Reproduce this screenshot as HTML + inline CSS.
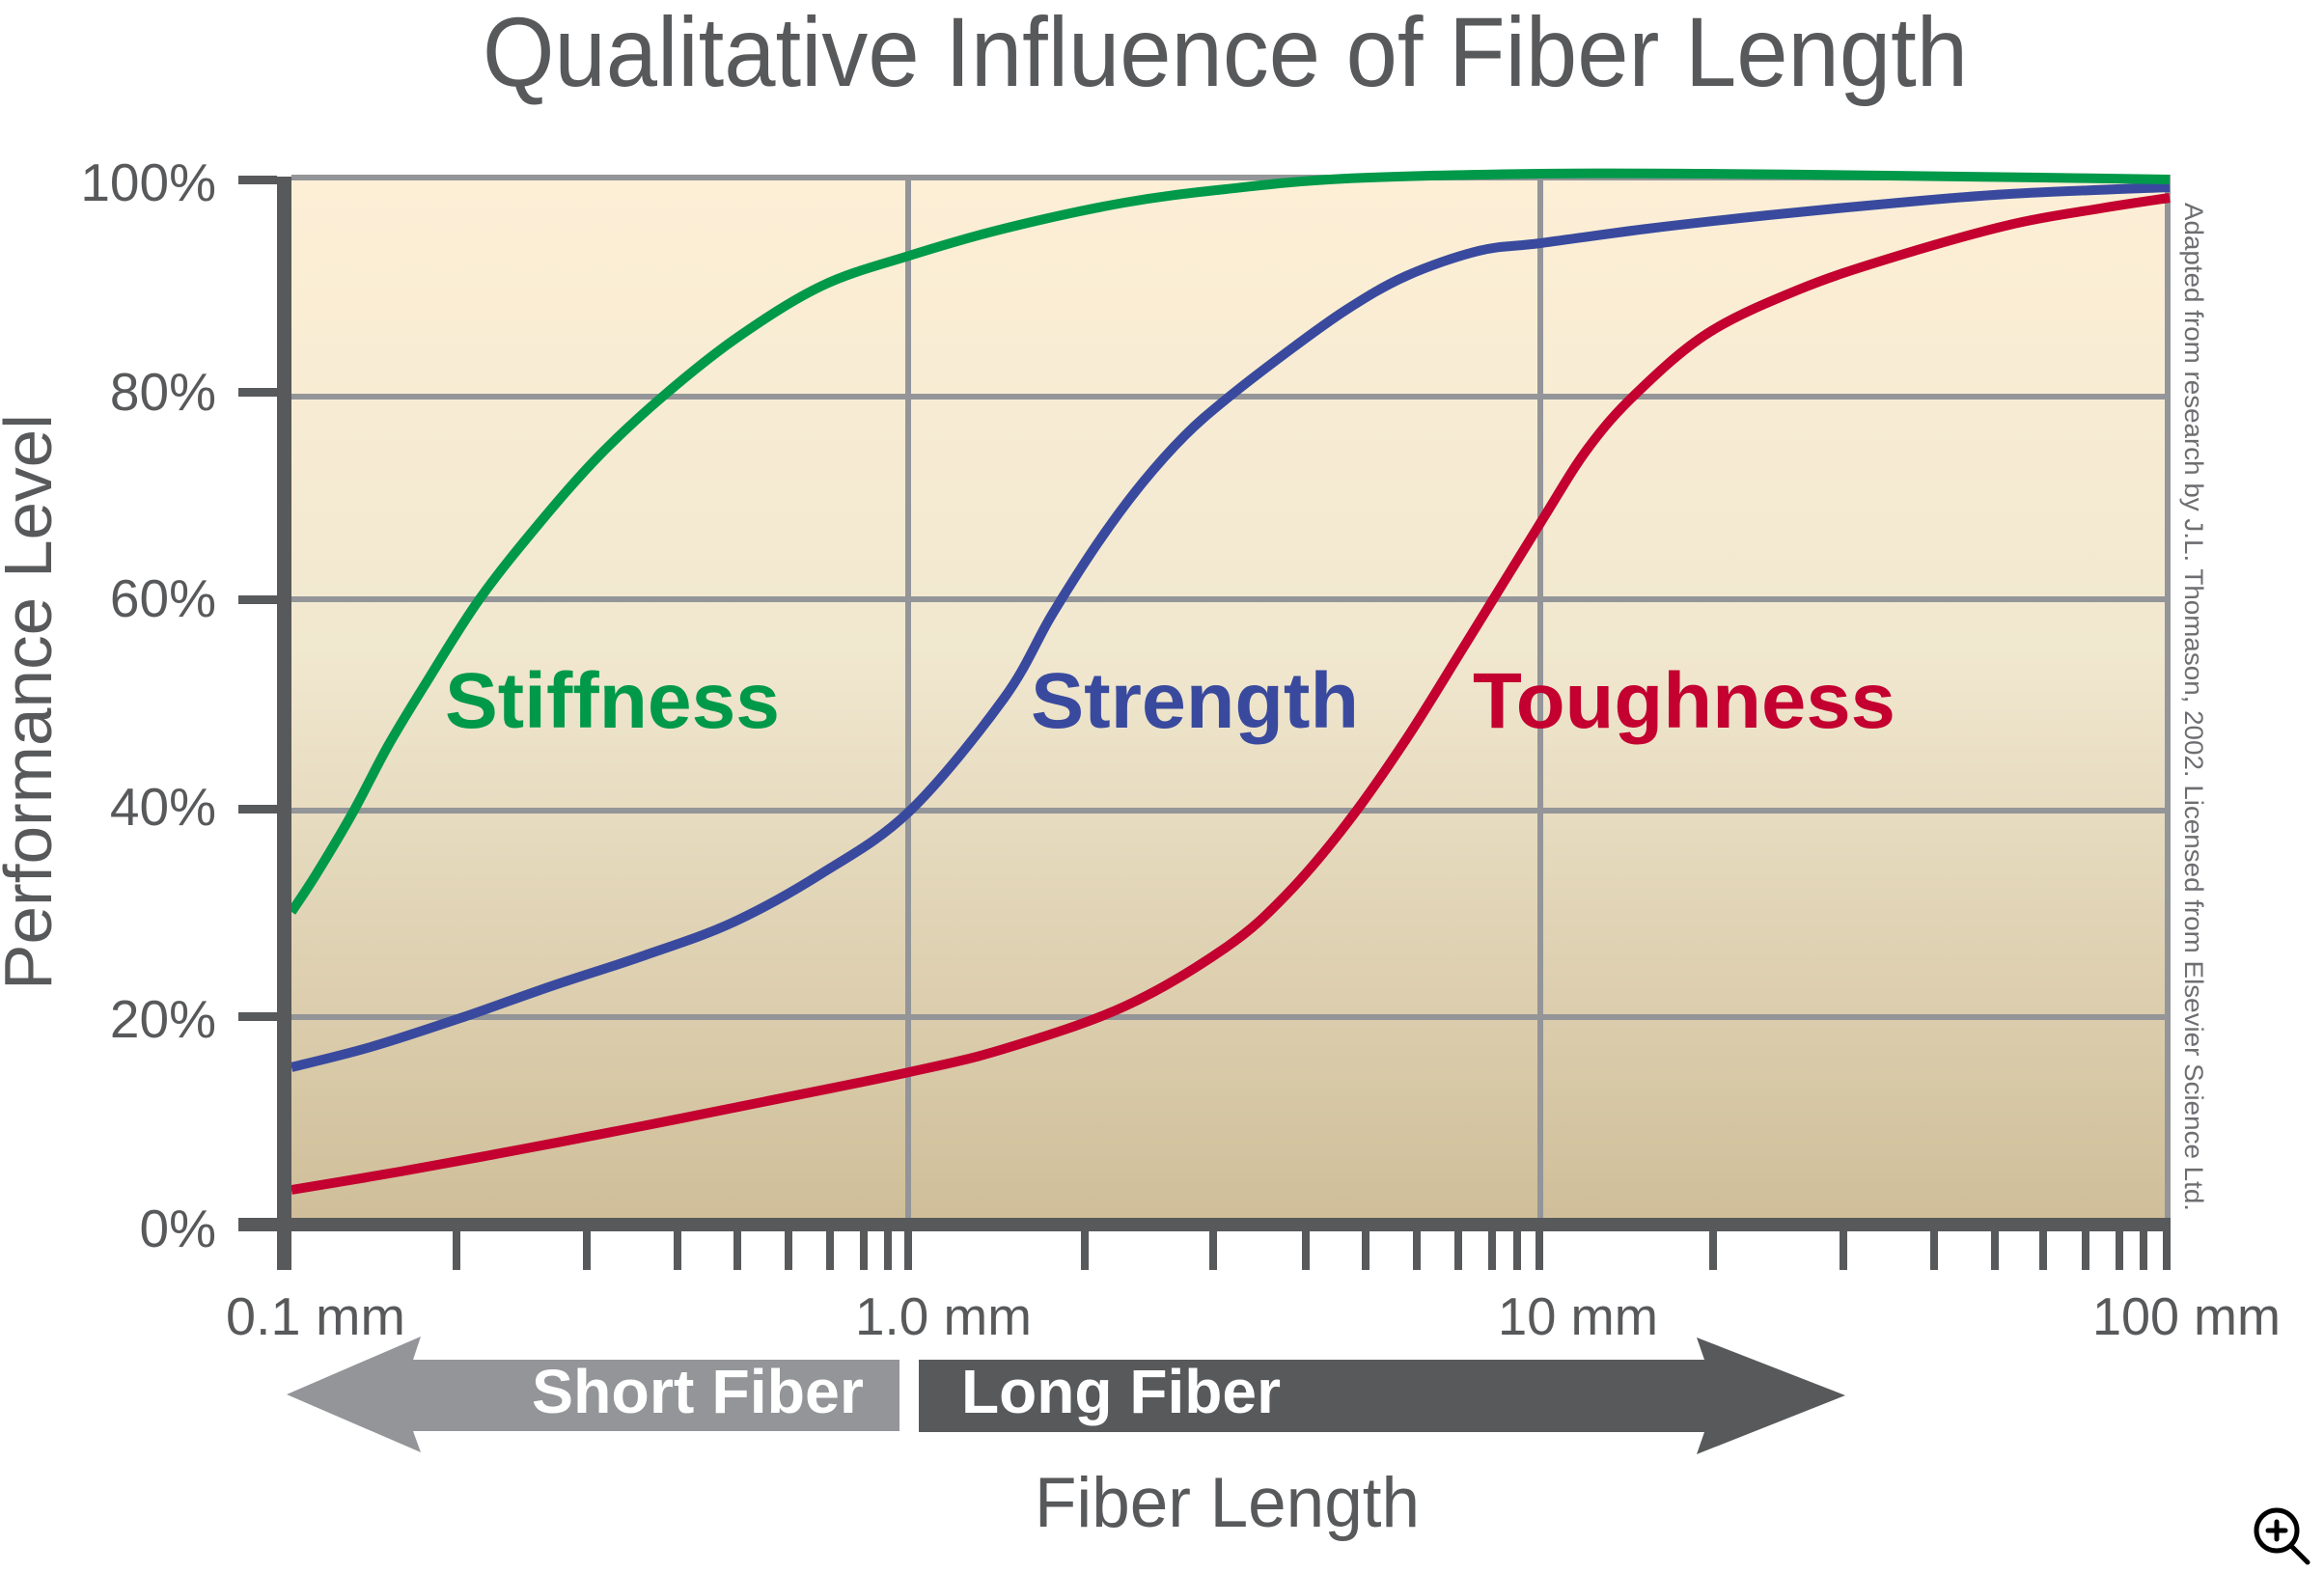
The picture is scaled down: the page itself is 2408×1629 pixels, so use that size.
<!DOCTYPE html>
<html>
<head>
<meta charset="utf-8">
<style>
  html,body{margin:0;padding:0;background:#fff;}
  svg{display:block;}
  text{font-family:"Liberation Sans", Arial, sans-serif;}
</style>
</head>
<body>
<svg id="chart" width="2408" height="1629" viewBox="0 0 2408 1629" xmlns="http://www.w3.org/2000/svg">
  <defs>
    <linearGradient id="bg" x1="0" y1="0" x2="0" y2="1">
      <stop offset="0" stop-color="#fdefd6"/>
      <stop offset="0.45" stop-color="#f1e8d0"/>
      <stop offset="1" stop-color="#cfbe99"/>
    </linearGradient>
  </defs>
  <rect x="0" y="0" width="2408" height="1629" fill="#ffffff"/>

  <!-- Title -->
  <text x="500" y="89" font-size="102" fill="#58595b" textLength="1539" lengthAdjust="spacingAndGlyphs">Qualitative Influence of Fiber Length</text>

  <!-- Plot background -->
  <rect x="302" y="184" width="1944" height="1078" fill="url(#bg)"/>

  <!-- Gridlines -->
  <g fill="#939598">
    <rect x="302" y="181" width="1947" height="6"/>
    <rect x="302" y="408" width="1944" height="6"/>
    <rect x="302" y="618" width="1944" height="6"/>
    <rect x="302" y="837" width="1944" height="6"/>
    <rect x="302" y="1051" width="1944" height="6"/>
    <rect x="938" y="184" width="6" height="1078"/>
    <rect x="1593" y="184" width="6" height="1078"/>
    <rect x="2243" y="181" width="6" height="1081"/>
  </g>

  <!-- Curves -->
  <g id="curves" fill="none" stroke-width="10" stroke-linejoin="round" stroke-linecap="butt">
    <polyline class="crv" stroke="#c3002f" points="302,1233 415,1214 540,1191 665,1167 790,1142 942,1111 1040,1087 1165,1043 1270,982 1332,928 1395,854 1457,766 1520,665 1596,542 1645,465 1695,408 1770,345 1864,300 1957,268 2082,233 2176,216 2248,205"/>
    <polyline class="crv" stroke="#394a9e" points="302,1106 384,1085 477,1055 571,1022 665,991 759,956 850,906 942,841 1040,724 1090,637 1140,559 1184,500 1228,451 1270,414 1332,366 1395,321 1457,286 1532,260 1596,252 1707,237 1832,223 1957,211 2082,201 2248,194"/>
    <polyline class="crv" stroke="#00994a" points="302,945 327,907 365,843 402,773 440,710 496,622 559,542 621,472 690,408 765,349 852,296 942,265 1040,237 1165,210 1270,196 1395,185 1596,180 1770,180 1957,182 2114,184 2248,186"/>
  </g>

  <!-- Axes -->
  <g fill="#58595b">
    <rect x="287" y="183" width="15" height="1133"/>
    <rect x="247" y="1262" width="2002" height="14"/>
    <rect x="247" y="182" width="40" height="9"/>
    <rect x="247" y="402" width="40" height="9"/>
    <rect x="247" y="617" width="40" height="9"/>
    <rect x="247" y="834" width="40" height="9"/>
    <rect x="247" y="1049" width="40" height="9"/>
    <rect x="469" y="1274" width="8" height="42"/>
    <rect x="604" y="1274" width="8" height="42"/>
    <rect x="698" y="1274" width="8" height="42"/>
    <rect x="760" y="1274" width="8" height="42"/>
    <rect x="813" y="1274" width="8" height="42"/>
    <rect x="856" y="1274" width="8" height="42"/>
    <rect x="891" y="1274" width="8" height="42"/>
    <rect x="916" y="1274" width="8" height="42"/>
    <rect x="937" y="1274" width="8" height="42"/>
    <rect x="1120" y="1274" width="8" height="42"/>
    <rect x="1253" y="1274" width="8" height="42"/>
    <rect x="1349" y="1274" width="8" height="42"/>
    <rect x="1411" y="1274" width="8" height="42"/>
    <rect x="1464" y="1274" width="8" height="42"/>
    <rect x="1507" y="1274" width="8" height="42"/>
    <rect x="1542" y="1274" width="8" height="42"/>
    <rect x="1568" y="1274" width="8" height="42"/>
    <rect x="1591" y="1274" width="8" height="42"/>
    <rect x="1771" y="1274" width="8" height="42"/>
    <rect x="1906" y="1274" width="8" height="42"/>
    <rect x="2000" y="1274" width="8" height="42"/>
    <rect x="2063" y="1274" width="8" height="42"/>
    <rect x="2113" y="1274" width="8" height="42"/>
    <rect x="2157" y="1274" width="8" height="42"/>
    <rect x="2192" y="1274" width="8" height="42"/>
    <rect x="2217" y="1274" width="8" height="42"/>
    <rect x="2241" y="1274" width="8" height="42"/>
  </g>

  <!-- Y tick labels -->
  <g font-size="55" fill="#58595b" text-anchor="end">
    <text x="224" y="208">100%</text>
    <text x="224" y="425">80%</text>
    <text x="224" y="639">60%</text>
    <text x="224" y="855">40%</text>
    <text x="224" y="1075">20%</text>
    <text x="224" y="1292">0%</text>
  </g>

  <!-- Y axis title -->
  <text transform="translate(53,1026) rotate(-90)" x="0" y="0" font-size="70" fill="#58595b" textLength="597" lengthAdjust="spacingAndGlyphs">Performance Level</text>

  <!-- X tick labels -->
  <g font-size="55" fill="#58595b">
    <text x="234" y="1383" textLength="186" lengthAdjust="spacingAndGlyphs">0.1 mm</text>
    <text x="886" y="1383" textLength="183" lengthAdjust="spacingAndGlyphs">1.0 mm</text>
    <text x="1552" y="1383" textLength="166" lengthAdjust="spacingAndGlyphs">10 mm</text>
    <text x="2168" y="1383" textLength="195" lengthAdjust="spacingAndGlyphs">100 mm</text>
  </g>

  <!-- Arrows -->
  <polygon fill="#939598" points="297,1445 436,1385 428,1409 932,1409 932,1483 428,1483 436,1505"/>
  <polygon fill="#58595b" points="952,1409 1766,1409 1758,1386 1912,1446 1758,1507 1766,1484 952,1484"/>
  <text x="551" y="1464" font-size="64" font-weight="bold" fill="#ffffff" textLength="344" lengthAdjust="spacingAndGlyphs">Short Fiber</text>
  <text x="996" y="1464" font-size="64" font-weight="bold" fill="#ffffff" textLength="331" lengthAdjust="spacingAndGlyphs">Long Fiber</text>

  <!-- X axis title -->
  <text x="1072" y="1582" font-size="73" fill="#58595b" textLength="399" lengthAdjust="spacingAndGlyphs">Fiber Length</text>

  <!-- Series labels -->
  <g font-size="82" font-weight="bold">
    <text x="461" y="754" fill="#00994a" textLength="347" lengthAdjust="spacingAndGlyphs">Stiffness</text>
    <text x="1068" y="754" fill="#394a9e" textLength="340" lengthAdjust="spacingAndGlyphs">Strength</text>
    <text x="1526" y="754" fill="#c3002f" textLength="438" lengthAdjust="spacingAndGlyphs">Toughness</text>
  </g>

  <!-- Credit -->
  <text transform="translate(2264,210) rotate(90)" x="0" y="0" font-size="27" fill="#6d6e71" textLength="1045" lengthAdjust="spacingAndGlyphs">Adapted from research by J.L. Thomason, 2002. Licensed from Elsevier Science Ltd.</text>

  <!-- Zoom icon -->
  <g fill="none" stroke="#000" stroke-width="5" stroke-linecap="round">
    <circle cx="2359" cy="1586" r="21"/>
    <line x1="2350" y1="1586" x2="2368" y2="1586"/>
    <line x1="2359" y1="1577" x2="2359" y2="1595"/>
    <line x1="2375" y1="1603" x2="2391" y2="1619"/>
  </g>
</svg>
<script>
(function(){
  try{
    var ns="http://www.w3.org/2000/svg";
    var pls=document.querySelectorAll("polyline.crv");
    for(var k=0;k<pls.length;k++){
      var pl=pls[k];
      var raw=pl.getAttribute("points").trim().split(/\s+/);
      var p=raw.map(function(s){var a=s.split(",");return [parseFloat(a[0]),parseFloat(a[1])];});
      var d="M"+p[0][0]+","+p[0][1];
      for(var i=0;i<p.length-1;i++){
        var p0=p[i>0?i-1:i],p1=p[i],p2=p[i+1],p3=p[i+2<p.length?i+2:i+1];
        var c1x=p1[0]+(p2[0]-p0[0])/6,c1y=p1[1]+(p2[1]-p0[1])/6;
        var c2x=p2[0]-(p3[0]-p1[0])/6,c2y=p2[1]-(p3[1]-p1[1])/6;
        d+=" C"+c1x.toFixed(1)+","+c1y.toFixed(1)+" "+c2x.toFixed(1)+","+c2y.toFixed(1)+" "+p2[0]+","+p2[1];
      }
      var path=document.createElementNS(ns,"path");
      path.setAttribute("d",d);
      path.setAttribute("stroke",pl.getAttribute("stroke"));
      pl.parentNode.insertBefore(path,pl);
      pl.parentNode.removeChild(pl);
    }
  }catch(e){}
})();
</script>
</body>
</html>
